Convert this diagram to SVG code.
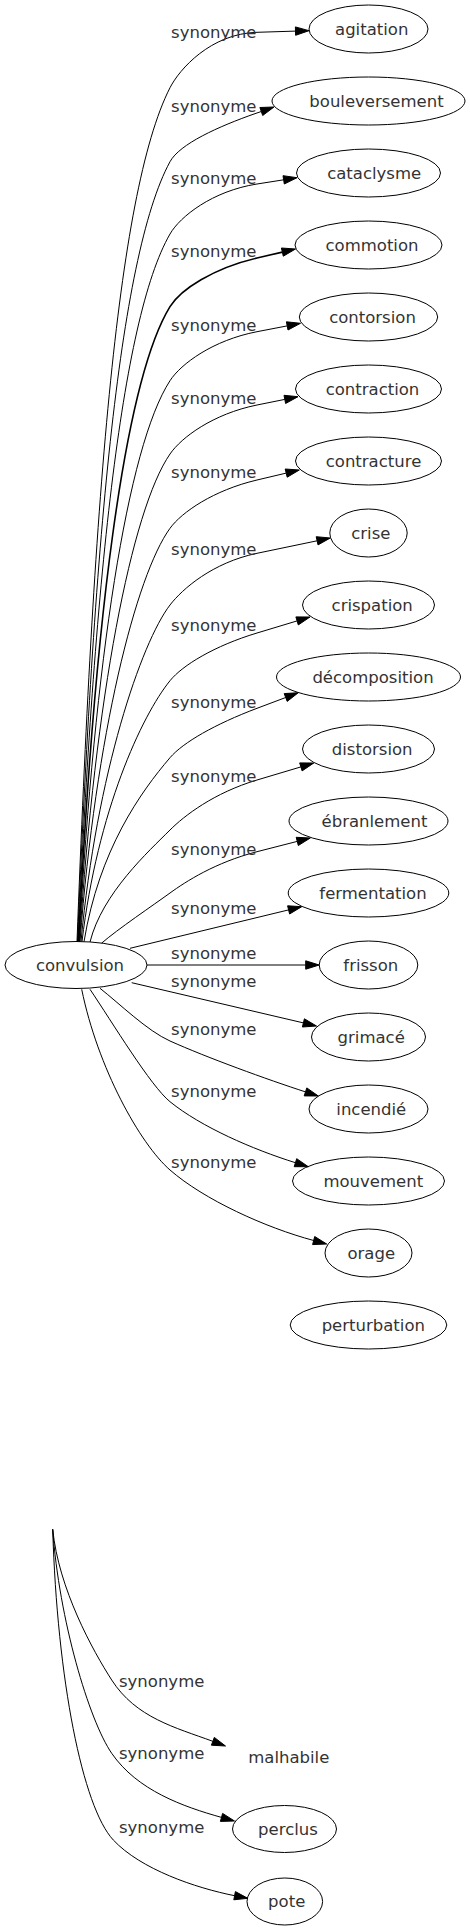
<svg xmlns="http://www.w3.org/2000/svg" width="470" height="1931" viewBox="0 0 470 1931">
<style>
.bg{fill:#ffffff}
.n ellipse{fill:none;stroke:#000;stroke-width:1}
.n text,.lbl{font-family:"DejaVu Sans",sans-serif;font-size:16.5px;fill:#333;text-anchor:middle}
.e path{fill:none;stroke:#000;stroke-width:1}
.e polygon{fill:#000;stroke:#000;stroke-width:1}
</style>
<rect class="bg" x="0" y="0" width="470" height="1931"/>
<g id="connectors" class="e">
<path d="M77,941.5 C93.3,514.6 115.7,194.2 170,87.7 C179.4,69.3 210.6,33.7 257,32.3 L295.5,31.1"/>
<polygon points="309,30.7 295.6,35.3 295.4,26.9"/>
<path d="M77.5,941.5 C93.7,551.6 117.9,257.7 170,161.7 C179.5,144.1 218.2,126.5 256,113.3 L261.3,111.5"/>
<polygon points="274,107 262.7,115.5 259.9,107.5"/>
<path d="M78,941.5 C94.1,587.7 120.5,319.8 170,234 C180,216.6 212.4,191 257,184 L283.7,179.8"/>
<polygon points="297,177.7 284.3,184 283,175.7"/>
<path d="M78.5,941.6 C94.5,624.1 123.6,382.5 170,306.7 C180.4,289.7 213.3,268.2 257,258 L282.4,252.1" style="stroke-width:1.6"/>
<polygon points="295.5,249 283.3,256.2 281.4,248"/>
<path d="M79,941.6 C94.9,661.1 127.2,446.6 170,380.7 C180.9,363.9 212.9,340.2 257,331.7 L287.2,325.9"/>
<polygon points="300.5,323.3 288,330 286.4,321.8"/>
<path d="M79.5,941.6 C95.3,697.8 131.3,510.3 170,454 C181.3,437.5 213,413.9 257,405 L284.8,399.4"/>
<polygon points="298,396.7 285.6,403.5 284,395.3"/>
<path d="M80,941.6 C95.7,734.9 136,575.1 170,528.3 C181.7,512.2 213.4,490.3 257,480 L286.2,473.1"/>
<polygon points="299.3,470 287.2,477.2 285.2,469"/>
<path d="M81,941.6 C96.6,773.3 141.3,642.4 170,605 C182.3,589 212.5,562.6 257,553.3 L317.1,540.8"/>
<polygon points="330.3,538 318,544.9 316.2,536.7"/>
<path d="M82,941.6 C97.4,811.1 141.7,715.7 170,680.7 C182.5,665.3 214.3,645.9 257,633 L297.1,620.9"/>
<polygon points="310,617 298.3,624.9 295.9,616.9"/>
<path d="M84,941.7 C99.1,849.7 140.8,791.9 170,757.7 C183,742.5 214.9,724.2 257,708.3 L285.7,697.5"/>
<polygon points="298.3,692.7 287.2,701.4 284.2,693.6"/>
<path d="M90,942 C102.1,893.5 148.8,851.2 170,830 C184.2,815.8 213.8,792.9 257,780 L300.9,766.9"/>
<polygon points="313.8,763 302.1,770.9 299.7,762.9"/>
<path d="M101.7,943.1 C116.7,929.9 153.8,904.8 170,893 C185.6,881.7 215.1,862.5 257,851.7 L297.2,841.4"/>
<polygon points="310.3,838 298.3,845.5 296.2,837.3"/>
<path d="M130,948.3 L288.6,909.9"/>
<polygon points="301.7,906.7 289.6,914 287.6,905.8"/>
<path d="M147,965 L305.7,965"/>
<polygon points="319.2,965 305.7,969.2 305.7,960.8"/>
<path d="M131.7,982.7 L303.4,1022.9"/>
<polygon points="316.5,1026 302.4,1027 304.4,1018.8"/>
<path d="M100,988.3 C119.7,1003.8 147.2,1030.8 170,1041 C206.5,1057.4 267.5,1079.6 305.5,1091.9"/>
<polygon points="318.3,1096 304.2,1095.9 306.8,1087.9"/>
<path d="M90,989.3 C112.4,1022.5 150.6,1086 170,1101.7 C201.1,1126.9 252.6,1149.3 295.4,1162.7"/>
<polygon points="308.3,1166.7 294.2,1166.7 296.7,1158.7"/>
<path d="M81.7,989.3 C97.7,1067.7 139.9,1143.7 170,1170 C203.9,1199.6 265.6,1227.7 313.7,1240.5"/>
<polygon points="326.7,1244 312.6,1244.6 314.7,1236.5"/>
<path d="M52.7,1529.3 C58.7,1589 92.8,1650.6 111.7,1680 C136,1717.8 175.3,1727.5 212.8,1741.3"/>
<polygon points="225.5,1746 211.4,1745.2 214.3,1737.4"/>
<path d="M52.7,1529.3 C59,1619.3 89,1720.3 111.7,1753.3 C137.2,1790.4 183,1806.6 221.5,1817.4"/>
<polygon points="234.5,1821 220.4,1821.4 222.6,1813.4"/>
<path d="M52.7,1529.3 C57.2,1679.3 82.6,1807.1 113.3,1840 C140.6,1869.2 195.4,1887.9 234.6,1895.7"/>
<polygon points="247.8,1898.3 233.8,1899.8 235.4,1891.6"/>
<text class="lbl" x="213.8" y="37.7">synonyme</text>
<text class="lbl" x="213.8" y="111.7">synonyme</text>
<text class="lbl" x="213.8" y="184">synonyme</text>
<text class="lbl" x="213.8" y="256.7">synonyme</text>
<text class="lbl" x="213.8" y="330.7">synonyme</text>
<text class="lbl" x="213.8" y="404">synonyme</text>
<text class="lbl" x="213.8" y="478.3">synonyme</text>
<text class="lbl" x="213.8" y="555">synonyme</text>
<text class="lbl" x="213.8" y="630.7">synonyme</text>
<text class="lbl" x="213.8" y="707.7">synonyme</text>
<text class="lbl" x="213.8" y="782">synonyme</text>
<text class="lbl" x="213.8" y="855">synonyme</text>
<text class="lbl" x="213.8" y="914">synonyme</text>
<text class="lbl" x="213.8" y="959.3">synonyme</text>
<text class="lbl" x="213.8" y="987.3">synonyme</text>
<text class="lbl" x="213.8" y="1035">synonyme</text>
<text class="lbl" x="213.8" y="1096.5">synonyme</text>
<text class="lbl" x="213.8" y="1168.3">synonyme</text>
<text class="lbl" x="161.7" y="1686.7">synonyme</text>
<text class="lbl" x="161.7" y="1759.3">synonyme</text>
<text class="lbl" x="161.7" y="1833.3">synonyme</text>
</g>
<g id="convulsion" class="n"><ellipse cx="76" cy="965" rx="71" ry="23.5"/><text x="80" y="970.5">convulsion</text></g>
<g id="agitation" class="n"><ellipse cx="368.5" cy="29" rx="59.5" ry="24"/><text x="371.7" y="34.5">agitation</text></g>
<g id="bouleversement" class="n"><ellipse cx="368.5" cy="101" rx="96.5" ry="24"/><text x="376.5" y="106.5">bouleversement</text></g>
<g id="cataclysme" class="n"><ellipse cx="368.5" cy="173" rx="72" ry="24"/><text x="374.2" y="178.5">cataclysme</text></g>
<g id="commotion" class="n"><ellipse cx="368.5" cy="245" rx="73.5" ry="24"/><text x="372" y="250.5">commotion</text></g>
<g id="contorsion" class="n"><ellipse cx="368.5" cy="317" rx="69.2" ry="24"/><text x="372.5" y="322.5">contorsion</text></g>
<g id="contraction" class="n"><ellipse cx="368.5" cy="389" rx="73" ry="24"/><text x="372.5" y="394.5">contraction</text></g>
<g id="contracture" class="n"><ellipse cx="368.5" cy="461" rx="73" ry="24"/><text x="373.5" y="466.5">contracture</text></g>
<g id="crise" class="n"><ellipse cx="368.5" cy="533" rx="38.7" ry="24"/><text x="370.8" y="538.5">crise</text></g>
<g id="crispation" class="n"><ellipse cx="368.5" cy="605" rx="66" ry="24"/><text x="372.2" y="610.5">crispation</text></g>
<g id="decomposition" class="n"><ellipse cx="368.5" cy="677" rx="92" ry="24"/><text x="373" y="682.5">décomposition</text></g>
<g id="distorsion" class="n"><ellipse cx="368.5" cy="749" rx="66" ry="24"/><text x="372.2" y="754.5">distorsion</text></g>
<g id="ebranlement" class="n"><ellipse cx="368.5" cy="821" rx="79.5" ry="24"/><text x="374.5" y="826.5">ébranlement</text></g>
<g id="fermentation" class="n"><ellipse cx="368.5" cy="893" rx="80.3" ry="24"/><text x="373" y="898.5">fermentation</text></g>
<g id="frisson" class="n"><ellipse cx="368.5" cy="965" rx="49.3" ry="24"/><text x="370.8" y="970.5">frisson</text></g>
<g id="grimace" class="n"><ellipse cx="368.5" cy="1037" rx="57" ry="24"/><text x="371.2" y="1042.5">grimacé</text></g>
<g id="incendie" class="n"><ellipse cx="368.5" cy="1109" rx="59.5" ry="24"/><text x="371.3" y="1114.5">incendié</text></g>
<g id="mouvement" class="n"><ellipse cx="368.5" cy="1181" rx="76" ry="24"/><text x="373.3" y="1186.5">mouvement</text></g>
<g id="orage" class="n"><ellipse cx="368.5" cy="1253" rx="43.5" ry="24"/><text x="371.3" y="1258.5">orage</text></g>
<g id="perturbation" class="n"><ellipse cx="368.5" cy="1325" rx="78.3" ry="24"/><text x="373.3" y="1330.5">perturbation</text></g>
<g id="malhabile" class="n"><text x="288.8" y="1762.5">malhabile</text></g>
<g id="perclus" class="n"><ellipse cx="284.5" cy="1829" rx="52" ry="23.5"/><text x="288" y="1834.5">perclus</text></g>
<g id="pote" class="n"><ellipse cx="284.8" cy="1901.5" rx="37.8" ry="23.5"/><text x="286.7" y="1907">pote</text></g>
</svg>
